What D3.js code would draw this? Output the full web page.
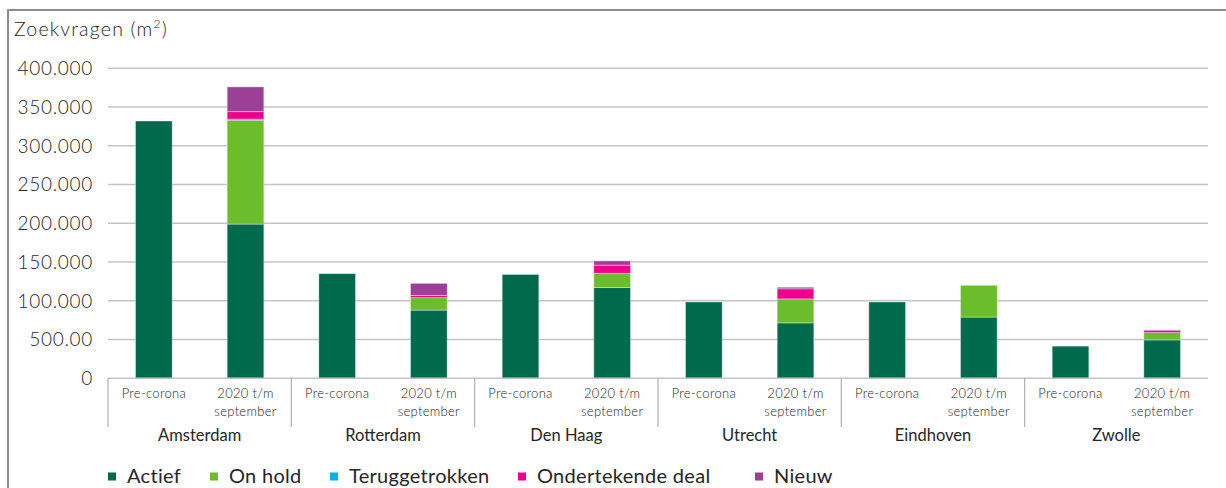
<!DOCTYPE html>
<html>
<head>
<meta charset="utf-8">
<script src="https://cdn.jsdelivr.net/npm/d3@7.9.0/dist/d3.min.js"></script>
<style>
  body { margin: 0; background: #fff; }
  svg { display: block; font-family: Lato, "Open Sans", sans-serif; }
</style>
</head>
<body>
<svg id="chart" width="1226" height="488"></svg>
<script>
// data
const cities = ['Amsterdam', 'Rotterdam', 'Den Haag', 'Utrecht', 'Eindhoven', 'Zwolle'];
const periods = ['Pre-corona', '2020 t/m september'];
const periodLines = [['Pre-corona'], ['2020 t/m', 'september']];
const series = ['Actief', 'On hold', 'Teruggetrokken', 'Ondertekende deal', 'Nieuw'];
const colors = ['#006a4d', '#6bbd2b', '#00b3e3', '#ec008c', '#9c4097'];

const preActief = [332000, 135000, 134000, 98500, 98500, 41500];
const nowActief = [199000, 88000, 117000, 71500, 79000, 49500];
const nowOnHold = [134000, 16000, 18500, 31000, 41000, 9500];
const nowTerug = [1500, 0, 0, 0, 0, 0];
const nowDeal = [9500, 3000, 10500, 13000, 0, 3000];
const nowNieuw = [32000, 15500, 5500, 2000, 0, 500];

const yTicks = [0, 50000, 100000, 150000, 200000, 250000, 300000, 350000, 400000];
const yTickLabels = ['0', '500.00', '100.000', '150.000', '200.000', '250.000', '300.000', '350.000', '400.000'];

// rows per city and period
const rows = [];
cities.forEach((c, i) => {
  rows.push({ city: c, period: periods[0], Actief: preActief[i], 'On hold': 0, Teruggetrokken: 0, 'Ondertekende deal': 0, Nieuw: 0 });
  rows.push({ city: c, period: periods[1], Actief: nowActief[i], 'On hold': nowOnHold[i], Teruggetrokken: nowTerug[i], 'Ondertekende deal': nowDeal[i], Nieuw: nowNieuw[i] });
});

const svg = d3.select('#chart');
const textColor = '#262626';
const plot = { left: 108, right: 1208, top: 68.3, bottom: 378.3 };

// frame
svg.append('path')
  .attr('d', `M8,488 V10 H1226`)
  .attr('fill', 'none')
  .attr('stroke', '#8c8c8c')
  .attr('stroke-width', 2);

const y = d3.scaleLinear().domain([0, 400000]).range([plot.bottom, plot.top]);
const x0 = d3.scaleBand().domain(cities).range([plot.left, plot.right]);
const x1 = d3.scaleBand().domain(periods).range([0, x0.bandwidth()]).paddingInner(0.6).paddingOuter(0.3);
const color = d3.scaleOrdinal().domain(series).range(colors);

// gridlines
svg.append('g')
  .selectAll('line')
  .data(yTicks.slice(1))
  .join('line')
  .attr('x1', plot.left)
  .attr('x2', plot.right)
  .attr('y1', d => y(d))
  .attr('y2', d => y(d))
  .attr('stroke', '#c4c4c4')
  .attr('stroke-width', 1.5);

// y labels
svg.append('g')
  .selectAll('text')
  .data(yTicks)
  .join('text')
  .attr('x', 93)
  .attr('y', d => y(d))
  .attr('dy', '0.36em')
  .attr('text-anchor', 'end')
  .attr('font-size', 19)
  .attr('font-weight', 300)
  .attr('letter-spacing', 0.7)
  .attr('fill', textColor)
  .text((d, i) => yTickLabels[i]);

// title
const title = svg.append('text')
  .attr('x', 14)
  .attr('y', 36)
  .attr('font-size', 19.5)
  .attr('font-weight', 300)
  .attr('letter-spacing', 1.2)
  .attr('fill', textColor);
title.append('tspan').text('Zoekvragen (m');
title.append('tspan').attr('font-size', 12).attr('dy', -8).text('2');
title.append('tspan').attr('dy', 8).text(')');

// stacked bars
const stacked = d3.stack().keys(series)(rows);
svg.append('g')
  .selectAll('g')
  .data(stacked)
  .join('g')
  .attr('fill', d => color(d.key))
  .selectAll('rect')
  .data(d => d.filter(s => s[1] > s[0]))
  .join('rect')
  .attr('x', d => x0(d.data.city) + x1(d.data.period))
  .attr('width', x1.bandwidth())
  .attr('y', d => y(d[1]))
  .attr('height', d => y(d[0]) - y(d[1]))
  .attr('stroke', 'rgba(255,255,255,0.45)')
  .attr('stroke-width', 0.8);

// category axis
svg.append('line')
  .attr('x1', plot.left).attr('x2', plot.right)
  .attr('y1', plot.bottom).attr('y2', plot.bottom)
  .attr('stroke', '#c4c4c4').attr('stroke-width', 1.5);

svg.append('g')
  .selectAll('line')
  .data(cities)
  .join('line')
  .attr('x1', d => x0(d))
  .attr('x2', d => x0(d))
  .attr('y1', plot.bottom)
  .attr('y2', 427)
  .attr('stroke', '#b0b0b0')
  .attr('stroke-width', 1.2);

const sub = svg.append('g')
  .selectAll('text')
  .data(rows)
  .join('text')
  .attr('x', d => x0(d.city) + x1(d.period) + x1.bandwidth() / 2)
  .attr('y', 398)
  .attr('text-anchor', 'middle')
  .attr('font-size', 13)
  .attr('font-weight', 300)
  .attr('letter-spacing', 0.3)
  .attr('fill', textColor);
sub.selectAll('tspan')
  .data(d => periodLines[periods.indexOf(d.period)])
  .join('tspan')
  .attr('x', function () { return d3.select(this.parentNode).attr('x'); })
  .attr('dy', (d, i) => i === 0 ? 0 : 17.5)
  .text(d => d);

svg.append('g')
  .selectAll('text')
  .data(cities)
  .join('text')
  .attr('x', d => x0(d) + x0.bandwidth() / 2)
  .attr('y', 441)
  .attr('text-anchor', 'middle')
  .attr('font-size', 16.5)
  .attr('fill', textColor)
  .text(d => d);

// legend
const legend = svg.append('g').attr('transform', 'translate(108, 476)');
const legendX = [0, 102, 222, 410, 647];
series.forEach((s, i) => {
  const g = legend.append('g').attr('transform', `translate(${legendX[i]},0)`);
  g.append('rect').attr('x', 0).attr('y', -3.5).attr('width', 8).attr('height', 8).attr('fill', color(s));
  g.append('text')
    .attr('x', 19)
    .attr('y', 0)
    .attr('dy', '0.36em')
    .attr('font-size', 20)
    .attr('letter-spacing', 0.3)
    .attr('fill', textColor)
    .text(s);
});
</script>
</body>
</html>
